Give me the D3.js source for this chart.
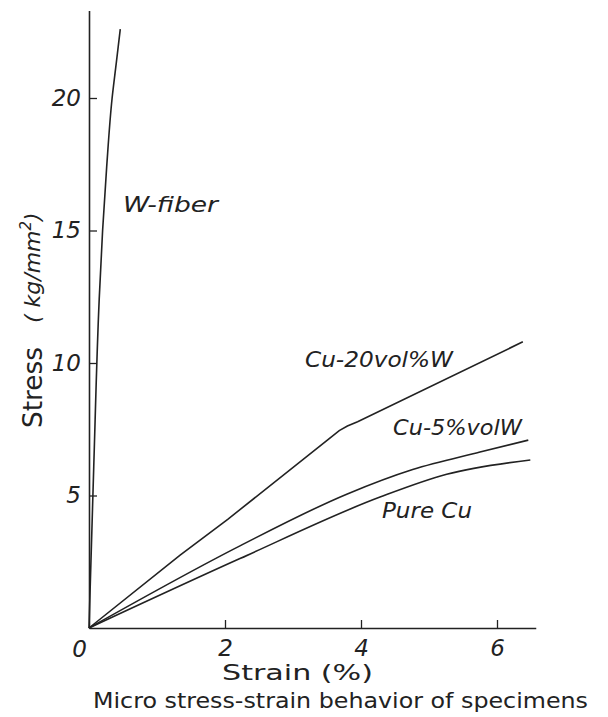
<!DOCTYPE html>
<html>
<head>
<meta charset="utf-8">
<script src="https://cdn.jsdelivr.net/npm/d3@7"></script>
<style>
  body { margin: 0; background: #fff; }
  text { fill: #222; font-family: "DejaVu Sans", sans-serif; }
</style>
</head>
<body>
<svg id="chart"></svg>
<script>
/* CONSTANTS AND GLOBALS */
const width = 608,
  height = 717,
  origin = { x: 89, y: 628 };

/* DATA */
const xTicks = [2, 4, 6];
const yTicks = [5, 10, 15, 20];

const wFiberStrain = [0, 0.07, 0.15, 0.20, 0.26, 0.34, 0.40, 0.46];
const wFiberStress = [0, 6.1, 12.4, 15.0, 17.4, 20.0, 21.3, 22.6];

const cu20Strain = [0, 1.34, 2.04, 3.51, 3.68, 3.8, 3.95, 6.38];
const cu20Stress = [0, 2.75, 4.1, 7.1, 7.45, 7.62, 7.78, 10.8];

const cu5Strain = [0, 2.22, 3.79, 4.76, 5.75, 6.46];
const cu5Stress = [0, 3.1, 5.05, 5.98, 6.64, 7.09];

const pureCuStrain = [0, 2.22, 4.28, 5.26, 6.49];
const pureCuStress = [0, 2.62, 4.94, 5.8, 6.34];

const series = [
  { name: "W-fiber", x: wFiberStrain, y: wFiberStress, curve: d3.curveMonotoneY },
  { name: "Cu-20vol%W", x: cu20Strain, y: cu20Stress, curve: d3.curveLinear },
  { name: "Cu-5%volW", x: cu5Strain, y: cu5Stress, curve: d3.curveMonotoneX },
  { name: "Pure Cu", x: pureCuStrain, y: pureCuStress, curve: d3.curveMonotoneX }
];

/* SCALES */
const xScale = d3.scaleLinear()
  .domain([0, 6.57])
  .range([origin.x, origin.x + 6.57 * 68]);

const yScale = d3.scaleLinear()
  .domain([0, 23.3])
  .range([origin.y, origin.y - 23.3 * 26.5]);

/* SVG */
const svg = d3.select("#chart")
  .attr("width", width)
  .attr("height", height);

// axes, ticks point inward
const xAxis = d3.axisBottom(xScale)
  .tickValues(xTicks)
  .tickFormat(d3.format("d"))
  .tickSizeInner(-8)
  .tickSizeOuter(0)
  .tickPadding(12);

const gx = svg.append("g")
  .attr("transform", `translate(0,${origin.y})`)
  .call(xAxis);

const yAxis = d3.axisLeft(yScale)
  .tickValues(yTicks)
  .tickFormat(d3.format("d"))
  .tickSizeInner(-8)
  .tickSizeOuter(0)
  .tickPadding(8);

const gy = svg.append("g")
  .attr("transform", `translate(${origin.x},0)`)
  .call(yAxis);

[gx, gy].forEach(g => {
  g.attr("font-size", 23).attr("font-family", null);
  g.select(".domain").attr("stroke", "#222").attr("stroke-width", 1.6);
  g.selectAll(".tick line").attr("stroke", "#222").attr("stroke-width", 1.3);
  g.selectAll(".tick text")
    .attr("font-style", "italic")
    .attr("fill", "#222");
});

// the 0 at the corner
svg.append("text")
  .attr("x", origin.x - 2)
  .attr("y", origin.y + 29)
  .attr("text-anchor", "end")
  .attr("font-size", 23)
  .attr("font-style", "italic")
  .text("0");

/* LINES */
series.forEach(s => {
  const pts = s.x.map((v, i) => [v, s.y[i]]);
  const line = d3.line()
    .x(d => xScale(d[0]))
    .y(d => yScale(d[1]))
    .curve(s.curve);
  svg.append("path")
    .datum(pts)
    .attr("fill", "none")
    .attr("stroke", "#222")
    .attr("stroke-width", 1.6)
    .attr("d", line);
});

/* LABELS */
const labels = [
  { text: "W-fiber", x: 123, y: 212, w: 95 },
  { text: "Cu-20vol%W", x: 305, y: 367, w: 148 },
  { text: "Cu-5%volW", x: 393, y: 435, w: 129 },
  { text: "Pure Cu", x: 382, y: 518, w: 90 }
];

svg.selectAll("text.curve-label")
  .data(labels)
  .join("text")
  .attr("class", "curve-label")
  .attr("x", d => d.x)
  .attr("y", d => d.y)
  .attr("font-size", 22)
  .attr("font-style", "italic")
  .attr("textLength", d => d.w)
  .attr("lengthAdjust", "spacingAndGlyphs")
  .text(d => d.text);

svg.append("text")
  .attr("x", 222)
  .attr("y", 680)
  .attr("font-size", 22)
  .attr("textLength", 151)
  .attr("lengthAdjust", "spacingAndGlyphs")
  .text("Strain (%)");

svg.append("text")
  .attr("x", 93)
  .attr("y", 708)
  .attr("font-size", 21)
  .attr("textLength", 495)
  .attr("lengthAdjust", "spacingAndGlyphs")
  .text("Micro stress-strain behavior of specimens");

// y axis title, two pieces with a wide gap
svg.append("text")
  .attr("transform", "translate(42,428) rotate(-90)")
  .attr("font-size", 26)
  .attr("textLength", 81)
  .attr("lengthAdjust", "spacingAndGlyphs")
  .text("Stress");

const unit = svg.append("text")
  .attr("transform", "translate(40,323) rotate(-90)")
  .attr("font-size", 22)
  .attr("font-style", "italic");
unit.append("tspan").text("( kg/mm");
unit.append("tspan").attr("dy", -9).attr("font-size", 15).text("2");
unit.append("tspan").attr("dy", 9).text(")");
</script>
</body>
</html>
